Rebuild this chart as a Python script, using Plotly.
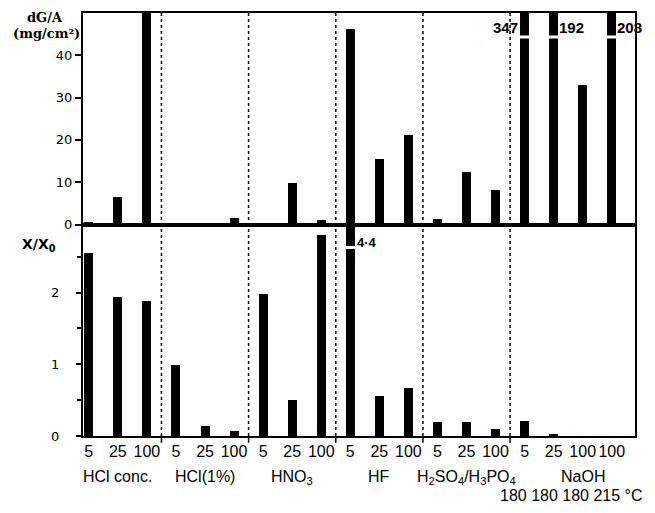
import plotly.graph_objects as go
from plotly.subplots import make_subplots

# ---- data ----
time_labels = ["5", "25", "100", "5", "25", "100", "5", "25", "100",
               "5", "25", "100", "5", "25", "100", "5", "25", "100", "100"]
groups = ["HCl conc.", "HCl(1%)", "HNO<sub>3</sub>", "HF",
          "H<sub>2</sub>SO<sub>4</sub>/H<sub>3</sub>PO<sub>4</sub>", "NaOH"]
group_sizes = [3, 3, 3, 3, 3, 4]
naoh_temps = ["180", "180", "180", "215"]

dGA = [0.6, 6.5, 60, 0.2, 0.4, 1.5, 0.1, 9.8, 1.0,
       46.2, 15.5, 21.2, 1.3, 12.4, 8.1, 347, 192, 33.0, 208]
XX0 = [2.56, 1.94, 1.89, 1.0, 0.15, 0.07, 1.99, 0.51, 2.81,
       4.4, 0.57, 0.68, 0.2, 0.2, 0.11, 0.21, 0.03, 0.0, 0.0]

top_broken = {15: "347", 16: "192", 18: "208"}
bottom_broken = {9: "4·4"}

x = list(range(len(time_labels)))

fig = make_subplots(rows=2, cols=1, shared_xaxes=True, vertical_spacing=0.0)

fig.add_trace(go.Bar(x=x, y=dGA, width=0.31, marker=dict(color="black", line_width=0),
                     showlegend=False), row=1, col=1)
fig.add_trace(go.Bar(x=x, y=XX0, width=0.31, marker=dict(color="black", line_width=0),
                     showlegend=False), row=2, col=1)

FONT = "Liberation Sans"

# separators between groups
bounds = []
acc = 0
for s in group_sizes[:-1]:
    acc += s
    bounds.append(acc - 0.5)
for b in bounds:
    fig.add_shape(type="line", xref="x", yref="paper", x0=b, x1=b, y0=0, y1=1,
                  line=dict(color="black", width=1.5, dash="dot"))
    fig.add_shape(type="line", xref="x", yref="paper", x0=b, x1=b, y0=-0.016, y1=0,
                  line=dict(color="black", width=1.5))

# break marks
for i, lab in top_broken.items():
    fig.add_shape(type="line", xref="x", yref="y", x0=i - 0.2, x1=i + 0.2, y0=44.3, y1=44.3,
                  line=dict(color="white", width=3))
for i, lab in bottom_broken.items():
    fig.add_shape(type="line", xref="x", yref="y2", x0=i - 0.2, x1=i + 0.2, y0=2.63, y1=2.63,
                  line=dict(color="white", width=3))

# labels for broken bars
fig.add_annotation(x=15, y=46.5, xref="x", yref="y", text="<b>347</b>", showarrow=False,
                   xanchor="right", xshift=-5, font=dict(family=FONT, size=15, color="black"))
fig.add_annotation(x=16, y=46.5, xref="x", yref="y", text="<b>192</b>", showarrow=False,
                   xanchor="left", xshift=3, font=dict(family=FONT, size=15, color="black"))
fig.add_annotation(x=18, y=46.5, xref="x", yref="y", text="<b>208</b>", showarrow=False,
                   xanchor="left", xshift=3, font=dict(family=FONT, size=15, color="black"))
fig.add_annotation(x=9, y=2.7, xref="x", yref="y2", text="<b>4·4</b>", showarrow=False,
                   xanchor="left", xshift=5, font=dict(family=FONT, size=13, color="black"))

# group labels
start = 0
group_centers = []
for s in group_sizes:
    group_centers.append(start + (s - 1) / 2)
    start += s
group_centers[-1] = group_centers[-1] + 0.5
for gx, g in zip(group_centers, groups):
    fig.add_annotation(x=gx, y=0, xref="x", yref="paper", text=g, showarrow=False,
                       yanchor="top", yshift=-30, font=dict(family=FONT, size=16, color="black"))

# NaOH temperature row
fig.add_annotation(x=15, y=0, xref="x", yref="paper",
                   text=" ".join(naoh_temps) + " °C", showarrow=False,
                   xanchor="left", yanchor="top", yshift=-49, xshift=-27,
                   font=dict(family=FONT, size=16, color="black"))

# axis titles
fig.add_annotation(x=0, y=1, xref="paper", yref="paper", text="<b>dG/A</b>", showarrow=False,
                   xanchor="right", yanchor="middle", xshift=-18, yshift=-4,
                   font=dict(family="DejaVu Serif", size=13, color="black"))
fig.add_annotation(x=0, y=1, xref="paper", yref="paper", text="<b>(mg/cm²)</b>", showarrow=False,
                   xanchor="right", yanchor="middle", xshift=-1, yshift=-20,
                   font=dict(family="DejaVu Serif", size=13, color="black"))
fig.add_annotation(x=0, y=0.5, xref="paper", yref="paper", text="<b>X/X<sub>0</sub></b>",
                   showarrow=False, xanchor="right", yanchor="middle", xshift=-25, yshift=-20,
                   font=dict(family="DejaVu Sans", size=14, color="black"))

axis_common = dict(showline=True, linecolor="black", linewidth=2, mirror=True,
                   showgrid=False, zeroline=False, automargin=False)

fig.update_xaxes(range=[-0.2, 18.8], **axis_common)
fig.update_xaxes(showticklabels=False, ticks="", row=1, col=1)
fig.update_xaxes(tickmode="array", tickvals=x, ticktext=time_labels, ticks="", tickangle=0,
                 tickfont=dict(family=FONT, size=16, color="black"), row=2, col=1)

fig.update_yaxes(range=[0, 50], tickvals=[0, 10, 20, 30, 40], ticks="outside", ticklen=6,
                 tickwidth=1.5, tickcolor="black",
                 tickfont=dict(family="DejaVu Sans", size=13, color="black"), row=1, col=1,
                 **axis_common)
fig.update_yaxes(range=[0, 2.95], tickvals=[0, 1, 2], ticks="outside", ticklen=5,
                 tickwidth=1.5, tickcolor="black", ticklabelstandoff=14,
                 minor=dict(tickvals=[0.5, 1.5, 2.5], ticks="outside", ticklen=4,
                            tickcolor="black", tickwidth=1.5),
                 tickfont=dict(family="DejaVu Sans", size=13, color="black"), row=2, col=1,
                 **axis_common)

fig.update_layout(width=655, height=513, margin=dict(l=75, r=28, t=5, b=85),
                  plot_bgcolor="white", paper_bgcolor="white", bargap=0, showlegend=False)

fig.write_html("out.html")
